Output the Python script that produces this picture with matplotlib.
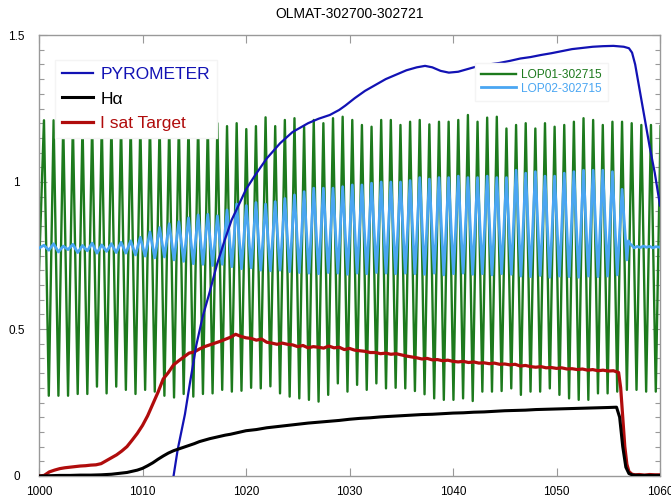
import numpy as np
import matplotlib
matplotlib.use("Agg")
import matplotlib.pyplot as plt
from matplotlib.ticker import MultipleLocator

plt.rcParams['font.family'] = ['Liberation Sans', 'DejaVu Sans']

title = "OLMAT-302700-302721"
x_ticks = [1000, 1010, 1020, 1030, 1040, 1050, 1060]
x_ticklabels = ["1000", "1010", "1020", "1030", "1040", "1050", "1060"]
y_ticks = [0, 0.5, 1, 1.5]
y_ticklabels = ["0", "0.5", "1", "1.5"]
labels_main = ["PYROMETER", "H\u03b1", "I sat Target"]
labels_lop = ["LOP01-302715", "LOP02-302715"]

# oscillation timing (first peak time and half period)
cycle_t0 = 1000.48
half_period = 0.46545

# LOP01 (green) : start value, peak values and trough values per cycle
green_start = 0.70
green_peaks = [1.21, 1.21,
               1.20, 1.20, 1.20, 1.20, 1.20, 1.20, 1.20, 1.20, 1.20, 1.20,
               1.20, 1.20, 1.20, 1.20, 1.20, 1.20, 1.20,
               1.19, 1.20, 1.18, 1.19, 1.22, 1.19,
               1.211, 1.217, 1.188, 1.211, 1.200, 1.217, 1.222, 1.211, 1.194, 1.188, 1.211, 1.211,
               1.194, 1.205, 1.211, 1.196, 1.205, 1.205, 1.211, 1.228, 1.205, 1.219, 1.222, 1.182,
               1.194, 1.200, 1.182, 1.200, 1.188, 1.194, 1.205, 1.217, 1.211, 1.194, 1.205, 1.205,
               1.200, 1.194, 1.194,
               1.19]
green_troughs = [0.273, 0.273, 0.273, 0.279, 0.279, 0.304, 0.281, 0.304, 0.293, 0.279,
                 0.293, 0.287, 0.273, 0.267, 0.279, 0.270, 0.279, 0.281, 0.293, 0.287,
                 0.290, 0.300, 0.298, 0.305,
                 0.281, 0.270, 0.264, 0.259, 0.253, 0.276, 0.315, 0.287, 0.310, 0.293, 0.315, 0.298,
                 0.300,
                 0.298, 0.289, 0.278, 0.264, 0.259, 0.259, 0.264, 0.255, 0.287, 0.287, 0.289, 0.298,
                 0.276, 0.287, 0.287, 0.298, 0.276, 0.264, 0.259, 0.259, 0.281, 0.281, 0.287, 0.293,
                 0.293, 0.287, 0.287]

# LOP02 (light blue)
blue_start = 0.775
blue_peaks = [0.785, 0.790, 0.782, 0.788, 0.784, 0.792, 0.786, 0.790,
              0.795, 0.800, 0.812, 0.830, 0.845,
              0.858, 0.865, 0.878, 0.888, 0.890, 0.885, 0.905,
              0.925, 0.920, 0.930, 0.925, 0.933,
              0.944, 0.956, 0.967, 0.979, 0.979, 0.979, 0.984, 0.990, 0.990, 0.996, 1.000, 1.000,
              1.000, 1.005, 1.015, 1.010, 1.015, 1.015, 1.020, 1.015, 1.015, 1.020, 1.015, 1.015,
              1.040, 1.030, 1.035, 1.020, 1.020, 1.030, 1.035, 1.040, 1.040, 1.040, 1.035, 0.975]
blue_troughs = [0.768, 0.762, 0.770, 0.760, 0.766, 0.758, 0.764, 0.760,
                0.758, 0.752, 0.748, 0.742, 0.745,
                0.735, 0.730, 0.722, 0.720, 0.716, 0.720, 0.712,
                0.705, 0.708, 0.700, 0.698, 0.700,
                0.695, 0.692, 0.690, 0.688, 0.692, 0.690, 0.686, 0.690, 0.688, 0.692, 0.690, 0.688,
                0.690, 0.688, 0.686, 0.690, 0.684, 0.688, 0.690, 0.686, 0.688, 0.684, 0.688, 0.686,
                0.680, 0.678, 0.682, 0.676, 0.680, 0.678, 0.676, 0.680, 0.678, 0.680, 0.684, 0.735]
blue_tail_t = [1056.95, 1057.1, 1057.3, 1057.5, 1057.8, 1058.1, 1058.4, 1058.7, 1059.0, 1059.3, 1059.6, 1060.0]
blue_tail_v = [0.800, 0.790, 0.784, 0.776, 0.781, 0.777, 0.782, 0.778, 0.781, 0.776, 0.780, 0.778]

# PYROMETER
pyro_t = [1012.6, 1013.0, 1013.4, 1014.1, 1014.6, 1015.2, 1015.8, 1016.5, 1017.2, 1018.0,
          1018.6, 1019.3, 1020.0, 1020.9, 1022.0, 1023.3, 1024.5, 1026.0, 1027.0, 1028.1,
          1029.0, 1029.6, 1030.5, 1031.5, 1032.5, 1033.5, 1034.5, 1035.5, 1036.5, 1037.3,
          1038.0, 1038.8, 1039.6, 1040.5, 1041.5, 1042.5, 1043.5, 1044.5, 1045.5, 1046.5,
          1047.5, 1048.5, 1049.5, 1050.5, 1051.5, 1052.5, 1053.5, 1054.5, 1055.5, 1056.5,
          1057.0, 1057.3, 1057.6, 1058.0, 1058.5, 1059.0, 1059.5, 1060.0]
pyro_v = [-0.12, 0.0, 0.09, 0.21, 0.32, 0.445, 0.54, 0.627, 0.72, 0.808,
          0.87, 0.922, 0.975, 1.024, 1.08, 1.132, 1.17, 1.20, 1.215, 1.228,
          1.245, 1.26, 1.285, 1.31, 1.33, 1.35, 1.365, 1.38, 1.39, 1.395,
          1.39, 1.378, 1.372, 1.375, 1.385, 1.395, 1.40, 1.405, 1.412, 1.42,
          1.425, 1.432, 1.438, 1.445, 1.452, 1.456, 1.46, 1.462, 1.463, 1.46,
          1.455, 1.44, 1.40, 1.32, 1.22, 1.12, 1.03, 0.92]

# I sat Target (red)
red_t = [1000.0, 1000.5, 1001.0, 1001.5, 1002.0, 1002.5, 1003.0, 1003.5, 1004.0, 1004.5,
         1005.0, 1005.5, 1006.0, 1006.5, 1007.0, 1007.5, 1008.0, 1008.5, 1009.0, 1009.5,
         1010.0, 1010.5, 1011.0, 1011.5, 1012.0, 1012.5, 1013.0, 1013.5, 1014.0, 1014.5,
         1015.0, 1015.5, 1016.0, 1016.5, 1017.0, 1017.5, 1018.0, 1018.5, 1019.0, 1019.5,
         1020.0, 1020.5, 1021.0, 1021.5, 1022.0, 1022.5, 1023.0, 1023.5, 1024.0, 1024.5,
         1025.0, 1025.5, 1026.0, 1026.5, 1027.0, 1027.5, 1028.0, 1028.5, 1029.0, 1029.5,
         1030.0, 1030.5, 1031.0, 1031.5, 1032.0, 1032.5, 1033.0, 1033.5, 1034.0, 1034.5,
         1035.0, 1035.5, 1036.0, 1036.5, 1037.0, 1037.5, 1038.0, 1038.5, 1039.0, 1039.5,
         1040.0, 1040.5, 1041.0, 1041.5, 1042.0, 1042.5, 1043.0, 1043.5, 1044.0, 1044.5,
         1045.0, 1045.5, 1046.0, 1046.5, 1047.0, 1047.5, 1048.0, 1048.5, 1049.0, 1049.5,
         1050.0, 1050.5, 1051.0, 1051.5, 1052.0, 1052.5, 1053.0, 1053.5, 1054.0, 1054.5,
         1055.0, 1055.5, 1056.0, 1056.2, 1056.4, 1056.6, 1056.8, 1057.0, 1057.3, 1057.6,
         1058.0, 1058.5, 1059.0, 1059.5, 1060.0]
red_v = [0.000, 0.002, 0.014, 0.020, 0.025, 0.028, 0.030, 0.032, 0.034, 0.035,
         0.037, 0.038, 0.042, 0.052, 0.062, 0.072, 0.085, 0.100, 0.122, 0.145,
         0.172, 0.205, 0.245, 0.285, 0.330, 0.352, 0.378, 0.392, 0.405, 0.418,
         0.422, 0.432, 0.440, 0.446, 0.452, 0.458, 0.465, 0.472, 0.482, 0.475,
         0.470, 0.468, 0.462, 0.466, 0.455, 0.452, 0.448, 0.452, 0.448, 0.446,
         0.440, 0.444, 0.436, 0.440, 0.438, 0.435, 0.442, 0.436, 0.438, 0.430,
         0.434, 0.428, 0.426, 0.424, 0.420, 0.420, 0.416, 0.418, 0.414, 0.416,
         0.412, 0.408, 0.405, 0.402, 0.398, 0.400, 0.395, 0.396, 0.392, 0.394,
         0.390, 0.388, 0.390, 0.386, 0.388, 0.384, 0.385, 0.382, 0.384, 0.380,
         0.381, 0.378, 0.380, 0.374, 0.376, 0.372, 0.370, 0.372, 0.368, 0.369,
         0.366, 0.368, 0.364, 0.365, 0.362, 0.364, 0.360, 0.362, 0.358, 0.360,
         0.357, 0.358, 0.352, 0.300, 0.200, 0.100, 0.040, 0.015, 0.006, 0.004,
         0.005, 0.003, 0.005, 0.004, 0.004]

# H alpha (black)
h_t = [1000.0, 1001.0, 1002.0, 1003.0, 1004.0, 1005.0, 1006.0, 1006.5, 1007.0, 1007.5,
       1008.0, 1008.5, 1009.0, 1009.5, 1010.0, 1010.5, 1011.0, 1011.5, 1012.0, 1012.5,
       1013.0, 1013.5, 1014.0, 1014.5, 1015.0, 1015.5, 1016.0, 1016.5, 1017.0, 1017.5,
       1018.0, 1018.5, 1019.0, 1019.5, 1020.0, 1021.0, 1022.0, 1023.0, 1024.0, 1025.0,
       1026.0, 1027.0, 1028.0, 1029.0, 1030.0, 1031.0, 1032.0, 1033.0, 1034.0, 1035.0,
       1036.0, 1037.0, 1038.0, 1039.0, 1040.0, 1041.0, 1042.0, 1043.0, 1044.0, 1045.0,
       1046.0, 1047.0, 1048.0, 1049.0, 1050.0, 1051.0, 1052.0, 1053.0, 1054.0, 1055.0,
       1055.8, 1056.1, 1056.4, 1056.7, 1057.0, 1057.4, 1058.0, 1059.0, 1060.0]
h_v = [0.000, 0.001, 0.002, 0.002, 0.003, 0.003, 0.004, 0.005, 0.006, 0.008,
       0.010, 0.012, 0.016, 0.020, 0.026, 0.035, 0.045, 0.057, 0.068, 0.078,
       0.086, 0.092, 0.098, 0.104, 0.110, 0.117, 0.122, 0.127, 0.131, 0.135,
       0.139, 0.142, 0.146, 0.150, 0.154, 0.158, 0.164, 0.168, 0.172, 0.176,
       0.180, 0.183, 0.186, 0.189, 0.193, 0.196, 0.198, 0.201, 0.203, 0.205,
       0.207, 0.209, 0.210, 0.212, 0.214, 0.215, 0.217, 0.218, 0.220, 0.222,
       0.223, 0.224, 0.226, 0.227, 0.228, 0.229, 0.230, 0.231, 0.232, 0.233,
       0.234, 0.200, 0.100, 0.030, 0.008, 0.003, 0.002, 0.002, 0.002]

c_green = '#1d7a1d'
c_lblue = '#4aa6f2'
c_pyro = '#1212b4'
c_red = '#b00c0c'
c_black = '#000000'


def zigzag(start_t, start_v, peaks, troughs, t0, half):
    vals = []
    for i in range(len(peaks)):
        vals.append(peaks[i])
        if i < len(troughs):
            vals.append(troughs[i])
    times = t0 + half * np.arange(len(vals))
    return np.concatenate([[start_t], times]), np.concatenate([[start_v], vals])


fig = plt.figure(figsize=(6.71, 5.03), dpi=100)
ax = fig.add_axes([39 / 671, 27 / 503, 621 / 671, 441 / 503])

gx, gy = zigzag(1000.0, green_start, green_peaks, green_troughs, cycle_t0, half_period)
bx, by = zigzag(1000.0, blue_start, blue_peaks, blue_troughs, cycle_t0, half_period)
bx = np.concatenate([bx, blue_tail_t])
by = np.concatenate([by, blue_tail_v])

l_green, = ax.plot(gx, gy, color=c_green, lw=1.7, zorder=2)
l_lblue, = ax.plot(bx, by, color=c_lblue, lw=2.0, zorder=3)
l_red, = ax.plot(red_t, red_v, color=c_red, lw=2.3, zorder=4)
l_pyro, = ax.plot(pyro_t, pyro_v, color=c_pyro, lw=1.6, zorder=4)
l_h, = ax.plot(h_t, h_v, color=c_black, lw=2.2, zorder=4)

ax.set_xlim(1000, 1060)
ax.set_ylim(0, 1.5)
ax.set_xticks(x_ticks)
ax.set_xticklabels(x_ticklabels)
ax.set_yticks(y_ticks)
ax.set_yticklabels(y_ticklabels)
ax.yaxis.set_minor_locator(MultipleLocator(0.05))
ax.tick_params(axis='both', which='major', direction='in', top=True, right=True,
               labelsize=8.5, color='#999999', length=6, width=0.8)
ax.tick_params(axis='x', which='major', pad=7)
ax.tick_params(axis='y', which='major', pad=16)
for lab in ax.get_yticklabels():
    lab.set_horizontalalignment('center')
ax.tick_params(axis='y', which='minor', direction='in', left=True, right=True,
               color='#999999', length=3.5, width=0.8)
for s in ax.spines.values():
    s.set_color('#999999')
    s.set_linewidth(1.0)

ax.set_title(title, fontsize=10, pad=12)

leg1 = ax.legend([l_pyro, l_h, l_red], labels_main, loc='lower left',
                 bbox_to_anchor=(0.026, 0.766), borderaxespad=0, fontsize=12.5,
                 handlelength=1.8, handletextpad=0.4, labelspacing=0.55, borderpad=0.4,
                 frameon=True, fancybox=False, framealpha=1, edgecolor='#f4f4f4',
                 facecolor='white')
for txt, ln in zip(leg1.get_texts(), [l_pyro, l_h, l_red]):
    txt.set_color(ln.get_color())
ax.add_artist(leg1)

leg2 = ax.legend([l_green, l_lblue], labels_lop, loc='upper left',
                 bbox_to_anchor=(0.702, 0.937), borderaxespad=0, fontsize=8.6,
                 handlelength=2.9, handletextpad=0.45, labelspacing=0.15, borderpad=0.5,
                 frameon=True, fancybox=False, framealpha=1, edgecolor='#f4f4f4',
                 facecolor='white')
for txt, ln in zip(leg2.get_texts(), [l_green, l_lblue]):
    txt.set_color(ln.get_color())

fig.savefig("out.png", dpi=100)
